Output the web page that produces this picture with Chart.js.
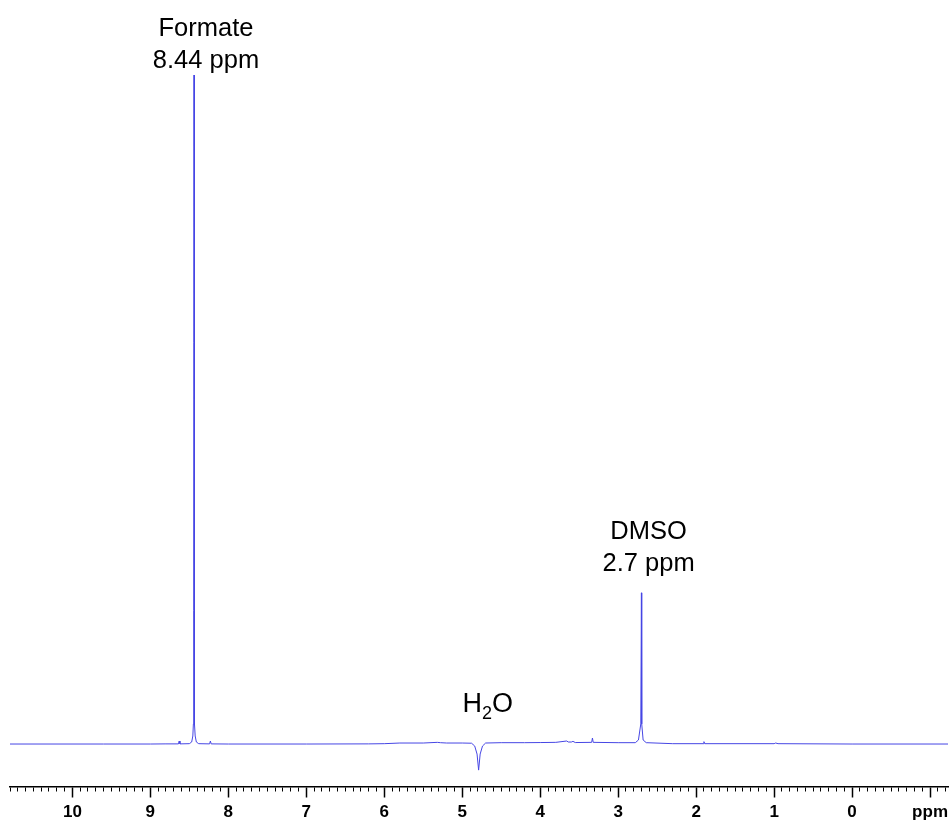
<!DOCTYPE html>
<html>
<head>
<meta charset="utf-8">
<script src="https://cdn.jsdelivr.net/npm/chart.js@4/dist/chart.umd.min.js"></script>
<style>
  html, body { margin: 0; padding: 0; background: #fff; }
  #wrap { width: 951px; height: 821px; position: relative; }
</style>
</head>
<body>
<div id="wrap"><canvas id="c"></canvas></div>
<script>
// Chemical shift (ppm) of each spectrum point
const shiftPpm = [
  10.8, 9.6, 9.0, 8.80, 8.64, 8.63, 8.62, 8.50, 8.47, 8.455, 8.448, 8.444, 8.440, 8.436, 8.432, 8.425, 8.41, 8.38,
  8.24, 8.23, 8.22, 8.0, 7.0, 6.2, 6.0, 5.8, 5.5, 5.32, 5.28, 5.2, 5.0, 4.88, 4.84, 4.81, 4.79, 4.77, 4.74, 4.70,
  4.5, 4.2, 4.0, 3.8, 3.66, 3.64, 3.6, 3.58, 3.55, 3.34, 3.33, 3.32, 3.0, 2.78, 2.74, 2.71, 2.702, 2.698, 2.68, 2.64,
  2.3, 1.91, 1.90, 1.89, 1.0, 0.98, 0.95, 0.0, -1.23
];
// Intensity (relative, formate peak = 100)
const intensity = [
  0, 0, 0, 0.02, 0.02, 0.45, 0.02, 0.05, 0.3, 1.2, 3.0, 20, 100, 20, 3.0, 1.2, 0.3, 0.05,
  0.02, 0.45, 0.02, 0, 0, 0.02, 0.05, 0.15, 0.15, 0.25, 0.2, 0.15, 0.15, 0.12, -0.3, -1.5, -3.9, -1.5, -0.3, 0.15,
  0.2, 0.2, 0.22, 0.25, 0.45, 0.3, 0.3, 0.4, 0.22, 0.25, 0.9, 0.25, 0.2, 0.2, 0.6, 3.0, 22.6, 3.0, 0.6, 0.2,
  0.05, 0.05, 0.35, 0.05, 0.05, 0.15, 0.05, 0, 0
];
// Peak annotations
const peakNames = ['Formate', 'DMSO'];
const peakShiftText = ['8.44 ppm', '2.7 ppm'];
const peakShift = [8.44, 2.7];
const peakHeight = [100, 22.6];
const waterShift = 4.79;
// Axis
const axisMin = -1.23, axisMax = 10.8;
const unitLabel = 'ppm';

const isMajor = v => Math.abs(v - Math.round(v)) < 1e-6;

const annotPlugin = {
  id: 'annot',
  afterDraw(chart) {
    const { ctx, scales: { x, y } } = chart;
    ctx.save();
    ctx.fillStyle = '#000';
    ctx.textBaseline = 'alphabetic';
    ctx.textAlign = 'center';
    ctx.font = '25.5px "Liberation Sans", Arial, sans-serif';
    const offX = [12, 7];
    const offY = [7, 22];
    for (let i = 0; i < peakNames.length; i++) {
      const px = x.getPixelForValue(peakShift[i]) + offX[i];
      const py = y.getPixelForValue(peakHeight[i]) - offY[i];
      ctx.fillText(peakShiftText[i], px, py);
      ctx.fillText(peakNames[i], px, py - 32);
    }
    // H2O with subscript
    let hx = x.getPixelForValue(waterShift) - 16;
    const hy = y.getPixelForValue(0) - 32;
    ctx.textAlign = 'left';
    ctx.font = '27px "Liberation Sans", Arial, sans-serif';
    ctx.fillText('H', hx, hy);
    hx += ctx.measureText('H').width;
    ctx.font = '18px "Liberation Sans", Arial, sans-serif';
    ctx.fillText('2', hx, hy + 7);
    hx += ctx.measureText('2').width;
    ctx.font = '27px "Liberation Sans", Arial, sans-serif';
    ctx.fillText('O', hx, hy);
    ctx.restore();
  }
};

new Chart(document.getElementById('c'), {
  type: 'line',
  data: {
    datasets: [{
      data: shiftPpm.map((p, i) => ({ x: p, y: intensity[i] })),
      borderColor: 'rgb(70,70,228)',
      borderWidth: 1,
      pointRadius: 0,
      tension: 0,
      fill: false
    }]
  },
  options: {
    responsive: true,
    maintainAspectRatio: false,
    animation: false,
    layout: { padding: { left: 10, right: 3, top: 75, bottom: 0 } },
    plugins: { legend: { display: false }, tooltip: { enabled: false } },
    scales: {
      x: {
        type: 'linear',
        reverse: true,
        min: axisMin,
        max: axisMax,
        border: { display: true, color: '#000', width: 1.5 },
        grid: {
          drawOnChartArea: false,
          drawTicks: true,
          tickLength: 17,
          tickColor: '#000',
          tickWidth: ctx => (ctx.tick && isMajor(ctx.tick.value)) ? 1.5 : 1,
          tickBorderDash: ctx => (ctx.tick && isMajor(ctx.tick.value)) ? [10, 100] : [4, 100]
        },
        ticks: {
          stepSize: 0.1,
          autoSkip: false,
          maxRotation: 0,
          minRotation: 0,
          includeBounds: false,
          padding: 1,
          color: '#000',
          font: { family: '"Liberation Sans", Arial, sans-serif', size: 17, weight: 'bold', lineHeight: 0.88 },
          callback: v => {
            if (!isMajor(v)) return '';
            const r = Math.round(v);
            return r === -1 ? unitLabel : String(r);
          }
        }
      },
      y: {
        display: false,
        min: -6.43,
        max: 100
      }
    }
  },
  plugins: [annotPlugin]
});
</script>
</body>
</html>
